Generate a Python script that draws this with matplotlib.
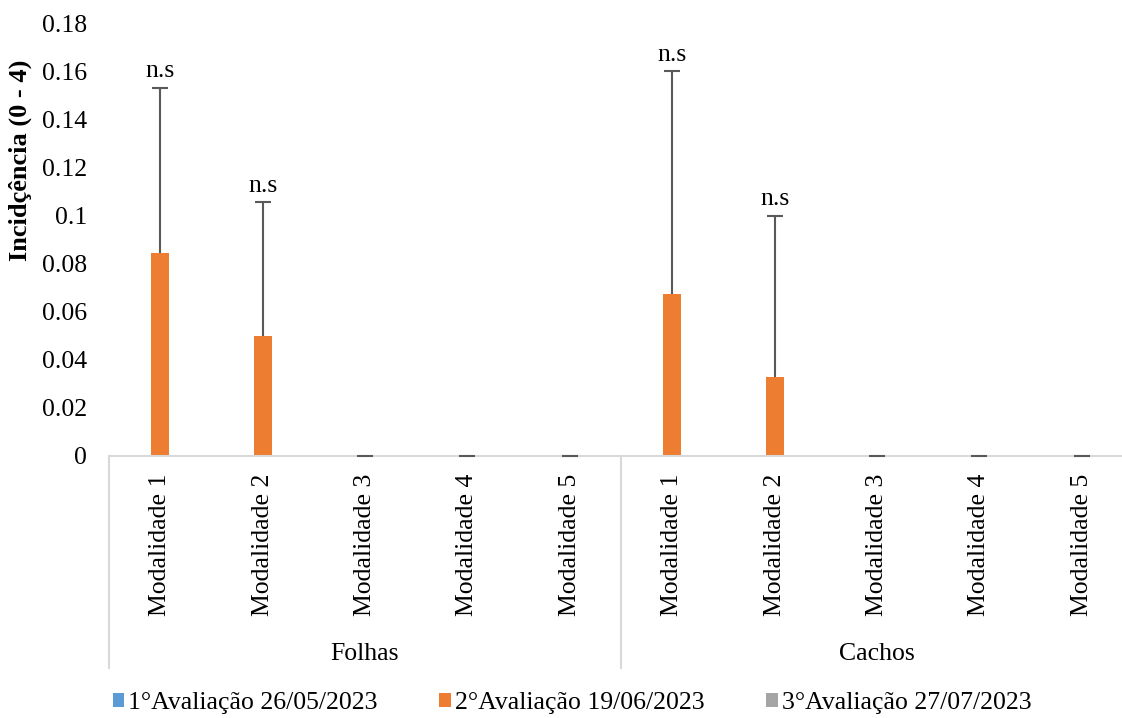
import numpy as np
import matplotlib.pyplot as plt

plt.rcParams['font.family'] = ['Liberation Serif', 'DejaVu Serif']

groups = ["Folhas", "Cachos"]
modalidades = ["Modalidade 1", "Modalidade 2", "Modalidade 3", "Modalidade 4", "Modalidade 5"]
series_names = ["1°Avaliação 26/05/2023", "2°Avaliação 19/06/2023", "3°Avaliação 27/07/2023"]
colors = ["#5B9BD5", "#ED7D31", "#A5A5A5"]

aval1 = [0, 0, 0, 0, 0, 0, 0, 0, 0, 0]
aval2 = [0.0845, 0.050, 0, 0, 0, 0.0675, 0.033, 0, 0, 0]
aval3 = [0, 0, 0, 0, 0, 0, 0, 0, 0, 0]
aval2_err = [0.069, 0.0557, 0, 0, 0, 0.0928, 0.067, 0, 0, 0]
aval2_sig = ["n.s", "n.s", "", "", "", "n.s", "n.s", "", "", ""]

W, H = 1122, 718
fig = plt.figure(figsize=(W / 100, H / 100), dpi=100)
ax = fig.add_axes([109 / W, 262 / H, 1024 / W, 432 / H])

x = np.arange(len(aval2))
bw = 0.176
ax.bar(x - bw, aval1, bw, color=colors[0], label=series_names[0])
ax.bar(x, aval2, bw, color=colors[1], label=series_names[1])
ax.bar(x + bw, aval3, bw, color=colors[2], label=series_names[2])

# upper-only error bars (plus caps)
tops = np.array(aval2) + np.array(aval2_err)
ax.vlines(x, aval2, tops, color="#595959", lw=1.5, zorder=3)
ax.plot(x, tops, ls="none", marker="_", ms=12, mew=1.5, color="#595959", zorder=3,
        clip_on=False)

for xi, t, s in zip(x, tops, aval2_sig):
    if s:
        ax.annotate(s, (xi, t), xytext=(0, 4), textcoords="offset points",
                    ha="center", va="bottom", fontsize=18.5)

ax.set_xlim(-0.5, len(x) - 0.5)
ax.set_ylim(0, 0.18)
ax.set_yticks(np.arange(0, 0.181, 0.02))
ax.set_yticklabels(["0", "0.02", "0.04", "0.06", "0.08", "0.1", "0.12", "0.14", "0.16", "0.18"])
ax.tick_params(axis="y", length=0, pad=16, labelsize=18.5)
ax.set_xticks(x)
ax.set_xticklabels(modalidades * 2, rotation=90, va="top")
ax.tick_params(axis="x", length=0, pad=13, labelsize=18.5)

for sp in ["top", "right", "left"]:
    ax.spines[sp].set_visible(False)
ax.spines["bottom"].set_color("#D9D9D9")
ax.spines["bottom"].set_linewidth(1.5)

# group separators and labels under the axis
ybot = (50 - 262) / 432
for sep in [-0.5, 4.5, 9.5]:
    ax.plot([sep, sep], [0, ybot], color="#D9D9D9", lw=1.5,
            transform=ax.get_xaxis_transform(), clip_on=False)
ylab = (64 - 262) / 432
for i, g in enumerate(groups):
    ax.text(2 + 5 * i, ylab, g, ha="center", va="center", fontsize=18.5,
            transform=ax.get_xaxis_transform())

fig.text(20 / W, 1 - 160 / H, "Incidçência (0 - 4)", rotation=90, ha="center",
         va="center", fontsize=19, fontweight="bold")

fig.legend(loc="center", bbox_to_anchor=(572 / W, 15 / H), ncol=3, frameon=False,
           fontsize=18.5, handlelength=0.45, handleheight=0.45, handletextpad=0.15,
           columnspacing=2.4, borderpad=0.0)

fig.savefig("out.png", dpi=100)
